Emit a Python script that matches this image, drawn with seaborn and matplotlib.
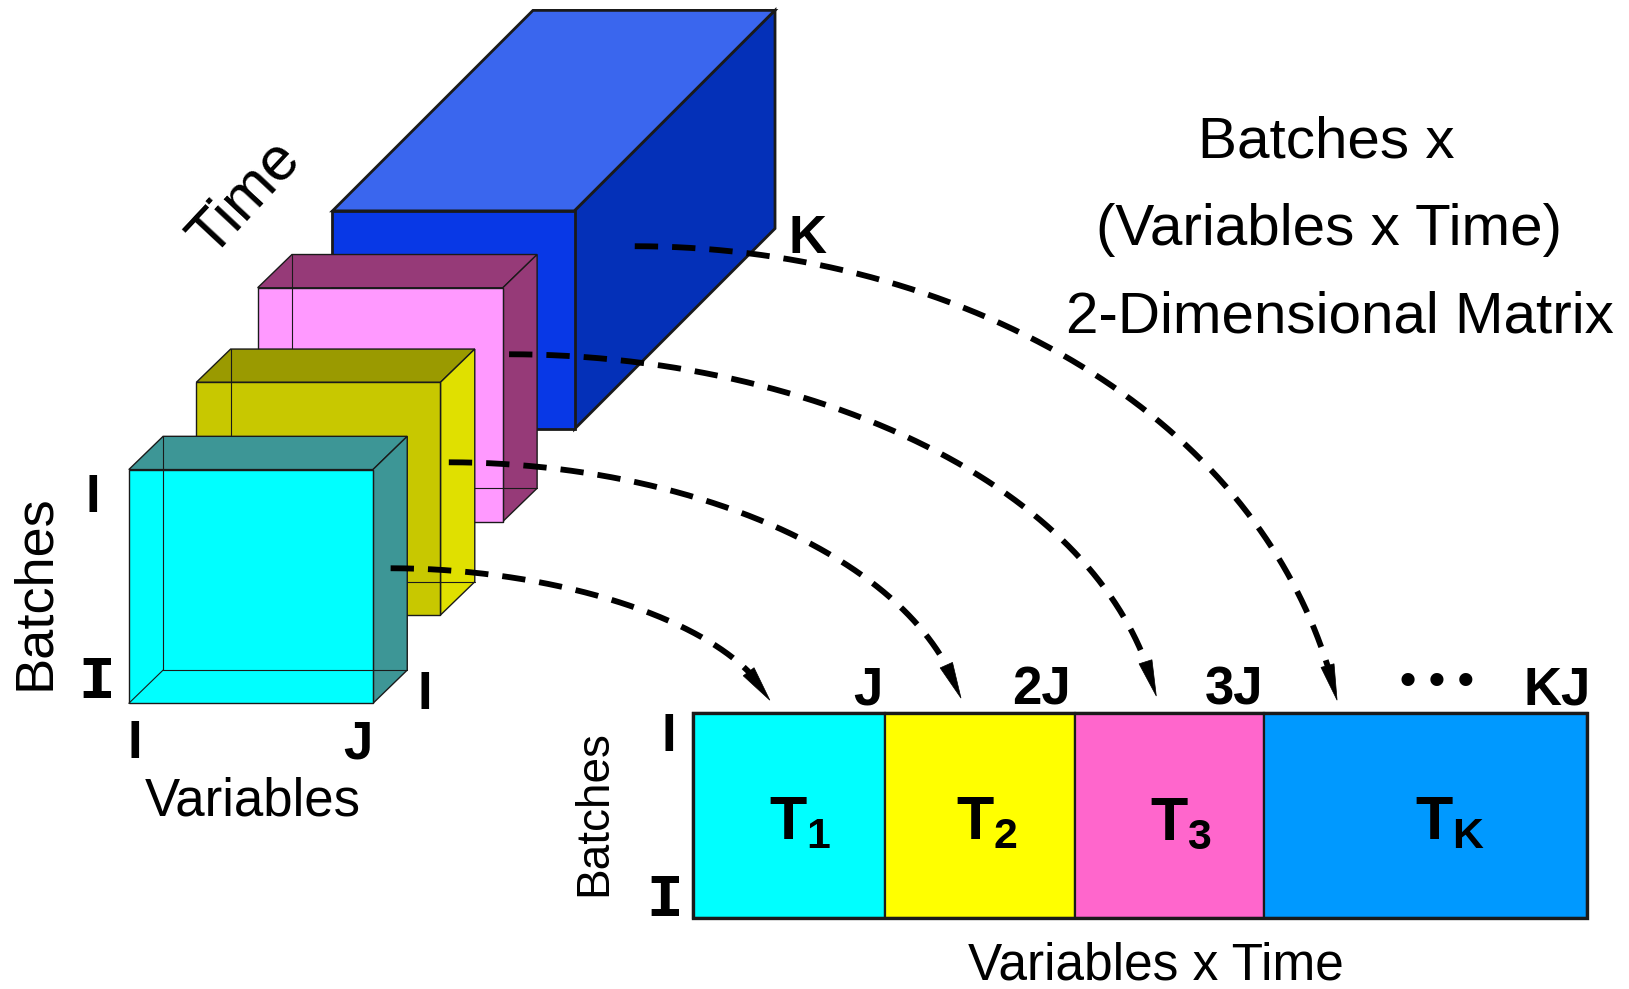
import numpy as np
import matplotlib
matplotlib.use("Agg")
import matplotlib.pyplot as plt
from matplotlib.patches import Polygon, Rectangle
import seaborn as sns

# ---------------- content ----------------
title_lines = ["Batches x", "(Variables x Time)", "2-Dimensional Matrix"]
cube_labels = ["Batches", "Variables", "Time"]
matrix_labels = ["Batches", "Variables x Time"]
slice_subscripts = ["1", "2", "3", "K"]
column_ticks = ["J", "2J", "3J", "KJ"]
slice_colors_matrix = ["#00FFFF", "#FFFF00", "#FF66CC", "#0099FF"]

# cube slices (front, top, side colours), drawn back to front
cube_front = ["#0838E6", "#FF99FF", "#C8C800", "#00FFFF"]
cube_top = ["#3A66EE", "#963A78", "#9A9A00", "#3D9696"]
cube_side = ["#0430B8", "#963A78", "#E0E000", "#3D9696"]

# ---------------- style ----------------
sns.set_theme(style="white")
plt.rcParams["font.family"] = ["Liberation Sans", "DejaVu Sans"]
plt.rcParams["text.color"] = "black"
plt.rcParams["mathtext.fontset"] = "custom"
plt.rcParams["mathtext.bf"] = "Liberation Sans:bold"
plt.rcParams["mathtext.rm"] = "Liberation Sans"
plt.rcParams["mathtext.it"] = "Liberation Sans:italic"

W, H = 1568, 952
fig = plt.figure(figsize=(16.29, 9.89), dpi=100)
ax = fig.add_axes([0, 0, 1, 1])
ax.set_xlim(0, W)
ax.set_ylim(H, 0)
ax.axis("off")

# ---------------- layout ----------------
# (left, top, width, height, depth dx, depth dy, linewidth, transparent)
cube_geom = [
    (320, 203, 233, 210, 193, -193, 2.0, False),
    (248, 277, 236, 225, 33, -32, 1.0, True),
    (189, 368, 235, 224, 33, -32, 1.0, True),
    (124, 452, 235, 225, 33, -32, 1.0, True),
]

z = 1
for (x, y, w, h, dx, dy, lw, hidden), fc, tc, sc in zip(cube_geom, cube_front, cube_top, cube_side):
    ftl, ftr, fbr, fbl = (x, y), (x + w, y), (x + w, y + h), (x, y + h)
    btl, btr, bbr, bbl = (x + dx, y + dy), (x + w + dx, y + dy), (x + w + dx, y + h + dy), (x + dx, y + h + dy)
    ax.add_patch(Polygon([ftl, ftr, btr, btl], closed=True, fc=tc, ec="k", lw=lw, zorder=z, joinstyle="miter"))
    ax.add_patch(Polygon([ftr, btr, bbr, fbr], closed=True, fc=sc, ec="k", lw=lw, zorder=z, joinstyle="miter"))
    ax.add_patch(Polygon([ftl, ftr, fbr, fbl], closed=True, fc=fc, ec="k", lw=lw, zorder=z + 0.1, joinstyle="miter"))
    if hidden:
        ax.plot([btl[0], bbl[0], bbr[0]], [btl[1], bbl[1], bbr[1]], color="k", lw=0.8, zorder=z + 0.2)
        ax.plot([fbl[0], bbl[0]], [fbl[1], bbl[1]], color="k", lw=0.8, zorder=z + 0.2)
        ax.plot([fbr[0], fbr[0]], [ftr[1], fbr[1]], color="k", lw=0.8, zorder=z + 0.2)
    z += 1

# ---------------- matrix ----------------
mx0, mx1, my0, my1 = 667, 1528, 686, 884
block_edges = [667, 852, 1035, 1217, 1528]
for i, col in enumerate(slice_colors_matrix):
    ax.add_patch(Rectangle((block_edges[i], my0), block_edges[i + 1] - block_edges[i], my1 - my0,
                           fc=col, ec="k", lw=1.6, zorder=10))
ax.add_patch(Rectangle((mx0, my0), mx1 - mx0, my1 - my0, fill=False, ec="k", lw=2.4, zorder=11))

sub_centers = [770, 950, 1137, 1396]
for s, cx in zip(slice_subscripts, sub_centers):
    ax.text(cx, 808, r"$\mathbf{T_{%s}}$" % s, fontsize=44, ha="center", va="baseline", zorder=12)

tick_centers = [835, 1002, 1188, 1499]
for t, cx in zip(column_ticks, tick_centers):
    ax.text(cx, 678, t, fontsize=38, fontweight="bold", ha="center", va="baseline", zorder=12)
ax.text(1383, 669, "\u2022 \u2022 \u2022", fontsize=33, fontweight="bold", ha="center", va="baseline", zorder=12)

# ---------------- dashed connectors ----------------
# start point, horizontal handle, tip, end direction, end handle
connectors = [
    ((376, 547), 160, (741, 674), (0.45, 0.89), 84),
    ((432, 445), 218, (925, 672), (0.32, 0.95), 150),
    ((490, 341), 276, (1113, 670), (0.24, 0.97), 217),
    ((611, 237), 300, (1287, 674), (0.23, 0.97), 290),
]
head_len, head_half = 34, 6.5
for (p0, h1, p3, d, h2) in connectors:
    P0 = np.array(p0, float)
    P3 = np.array(p3, float)
    dv = np.array(d, float)
    dv /= np.linalg.norm(dv)
    P1 = P0 + np.array([h1, 0.0])
    P2 = P3 - dv * h2
    t = np.linspace(0, 1, 600)[:, None]
    B = (1 - t) ** 3 * P0 + 3 * (1 - t) ** 2 * t * P1 + 3 * (1 - t) * t ** 2 * P2 + t ** 3 * P3
    dist = np.linalg.norm(B - P3, axis=1)
    keep = dist >= head_len - 2
    line = B[keep]
    ax.plot(line[:, 0], line[:, 1], color="black", lw=4.2, linestyle=(0, (4.0, 2.4)),
            solid_capstyle="butt", dash_capstyle="butt", zorder=20)
    base = B[dist >= head_len][-1]
    u = (P3 - base) / np.linalg.norm(P3 - base)
    n = np.array([-u[1], u[0]])
    ax.add_patch(Polygon([P3, base + n * head_half, base - n * head_half], closed=True,
                         fc="black", ec="black", lw=0.5, zorder=21))

# ---------------- labels ----------------
for line, (cx, by) in zip(title_lines, [(1277, 152), (1279, 236), (1290, 320)]):
    ax.text(cx, by, line, fontsize=42, ha="center", va="baseline", zorder=30)

ax.text(34, 570, cube_labels[0], fontsize=39, rotation=90, ha="center", va="center", zorder=30)
ax.text(243, 785, cube_labels[1], fontsize=38, ha="center", va="baseline", zorder=30)
ax.text(236, 191, cube_labels[2], fontsize=44, rotation=47, ha="center", va="center",
        rotation_mode="anchor", zorder=30)

ax.text(572, 783, matrix_labels[0], fontsize=33, rotation=90, ha="center", va="center", zorder=30)
ax.text(1113, 943, matrix_labels[1], fontsize=37, ha="center", va="baseline", zorder=30)

bold_labels = [("I", 89, 493), ("I", 130, 730), ("J", 344, 730), ("I", 409, 682),
               ("K", 777, 244), ("I", 644, 723)]
for s, x, y in bold_labels:
    ax.text(x, y, s, fontsize=38, fontweight="bold", ha="center", va="baseline", zorder=30)

serif_labels = [("I", 93, 672), ("I", 640, 882)]
for s, x, y in serif_labels:
    ax.text(x, y, s, fontsize=44, fontweight="bold", family=["Liberation Mono", "DejaVu Sans Mono"],
            ha="center", va="baseline", zorder=30)

fig.savefig("out.png", dpi=100, facecolor="white")
